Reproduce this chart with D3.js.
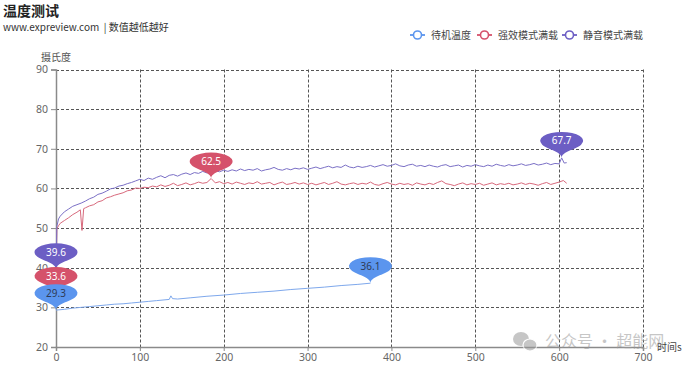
<!DOCTYPE html>
<html><head><meta charset="utf-8">
<script src="https://cdn.jsdelivr.net/npm/d3@7/dist/d3.min.js"></script>
<style>body{margin:0;background:#fff;font-family:"Noto Sans CJK SC","Noto Sans",sans-serif;}</style>
</head><body><svg id="c" width="700" height="371"></svg>
<script>
const xTicks = [0,100,200,300,400,500,600,700];
const yTicks = [20,30,40,50,60,70,80,90];
const seriesNames = ["待机温度","强效模式满载","静音模式满载"];

const idleT = [0,10,20,30,40,50,60,70,80,90,100,110,120,130,135,137,139,145,160,180,200,220,240,260,280,300,320,340,360,375];
const idleV = [29.3,29.5,29.8,30.0,30.2,30.4,30.6,30.8,30.9,31.1,31.3,31.5,31.7,31.9,32.0,32.9,32.2,32.1,32.4,32.8,33.1,33.5,33.8,34.1,34.5,34.8,35.1,35.5,35.8,36.1];

const perfT = [0,1,3,5,10,15,20,25,29,31,33,35,40,45,50,55,60,65,70,75,80,85,90,95,100,105,110,115,120,125,130,135,140,145,150,155,160,165,170,175,180,185,190,195,200,205,210,215,220,225,230,235,240,245,250,255,260,265,270,275,280,285,290,295,300,305,310,315,320,325,330,335,340,345,350,355,360,365,370,375,380,385,390,395,400,405,410,415,420,425,430,435,440,445,450,455,460,465,470,475,480,485,490,495,500,505,510,515,520,525,530,535,540,545,550,555,560,565,570,575,580,585,590,595,600,605,609];
const perfV = [33.6,49.8,50.6,51.2,51.9,52.6,53.4,54.0,54.6,49.4,54.9,55.1,55.6,55.9,56.6,56.9,57.6,57.9,58.3,58.6,58.9,59.4,59.6,60.1,60.0,60.3,60.2,60.6,60.4,60.9,60.5,60.8,61.3,60.7,61.0,61.4,60.9,61.2,61.6,61.3,61.5,62.5,61.4,61.7,61.2,61.5,61.1,61.6,61.3,61.0,61.4,61.2,61.7,61.1,61.3,61.5,60.9,61.3,61.6,61.0,61.2,61.5,61.1,61.4,61.0,61.3,60.9,61.2,61.5,61.0,61.3,61.7,61.1,60.9,61.2,61.4,61.0,61.3,61.1,61.6,61.0,60.8,61.2,61.5,61.1,60.9,61.3,61.0,61.2,60.8,61.4,61.1,60.9,61.3,61.0,61.5,61.9,61.2,61.0,60.7,61.1,61.4,60.9,61.2,61.0,61.3,60.8,61.1,61.4,60.9,61.2,61.0,61.3,60.9,61.1,61.4,61.0,61.3,61.1,60.8,61.2,61.5,61.0,61.3,61.6,62.0,61.3];

const quietT = [0,1,3,5,10,15,20,25,30,35,40,45,50,55,60,65,70,75,80,85,90,95,100,105,110,115,120,125,130,135,140,145,150,155,160,165,170,175,180,185,190,195,200,205,210,215,220,225,230,235,240,245,250,255,260,265,270,275,280,285,290,295,300,305,310,315,320,325,330,335,340,345,350,355,360,365,370,375,380,385,390,395,400,405,410,415,420,425,430,435,440,445,450,455,460,465,470,475,480,485,490,495,500,505,510,515,520,525,530,535,540,545,550,555,560,565,570,575,580,585,590,595,600,603,606,609];
const quietV = [39.6,50.4,52.3,53.0,54.1,54.8,55.5,55.9,56.3,56.8,57.4,57.8,58.5,58.8,59.3,59.9,60.1,60.6,60.8,61.2,61.5,61.9,62.3,62.0,62.6,62.3,62.8,63.2,62.7,63.3,63.5,63.1,63.6,63.9,63.5,64.0,63.8,64.3,63.9,64.1,64.5,64.2,64.6,64.3,64.7,64.4,64.9,64.5,64.8,64.6,65.0,64.4,64.7,64.9,65.3,64.8,64.6,65.0,64.7,65.1,64.9,65.2,64.8,65.1,65.4,65.0,65.3,65.6,65.2,65.5,65.3,65.9,65.4,65.2,65.6,65.3,65.5,65.8,65.4,65.7,66.0,65.6,65.8,66.2,65.7,65.5,65.9,66.1,65.6,65.8,65.5,65.9,65.6,65.4,65.8,66.0,65.5,65.7,65.9,65.4,65.8,65.6,66.0,65.7,65.5,65.9,65.6,66.1,65.8,65.6,66.0,65.7,65.9,66.2,65.8,66.0,66.3,65.9,66.1,66.4,66.0,66.3,66.2,67.7,66.4,66.5];

// marker points: [series index, time, value]
const markT = [0,375, 0,185, 0,603];
const markV = [29.3,36.1, 33.6,62.5, 39.6,67.7];
const markS = [0,0, 1,1, 2,2];

const colors = ["#5b95ee","#d5526b","#6c5ec4"];
const lineColors = ["#7ea8ec","#d8697c","#7b70c6"];
const labelColors = ["#2f3b55","#ffffff","#ffffff"];

const svg = d3.select("#c");
const x = d3.scaleLinear().domain([0,700]).range([56,643]);
const y = d3.scaleLinear().domain([20,90]).range([347,69.5]);

// title
svg.append("text").attr("x",3).attr("y",16).attr("font-size",14).attr("font-weight","bold").attr("fill","#222").text("温度测试");
svg.append("text").attr("x",3).attr("y",31).attr("font-size",10).attr("fill","#333").text("www.expreview.com  | 数值越低越好").attr("xml:space","preserve").style("white-space","pre");

// grid
const grid = svg.append("g").attr("stroke","#555").attr("stroke-width",1).attr("stroke-dasharray","3,2").attr("fill","none");
yTicks.filter(v=>v>20).forEach(v=>{
  grid.append("line").attr("x1",x(0)).attr("x2",x(700)).attr("y1",Math.round(y(v))+0.5).attr("y2",Math.round(y(v))+0.5);
});
xTicks.filter(v=>v>0).forEach(v=>{
  grid.append("line").attr("y1",y(90)).attr("y2",y(20)).attr("x1",Math.round(x(v))+0.5).attr("x2",Math.round(x(v))+0.5);
});

// axes
const yAxis = svg.append("g").attr("transform",`translate(${x(0)},0)`)
  .call(d3.axisLeft(y).tickValues(yTicks).tickSize(5).tickPadding(3).tickFormat(d3.format("d")));
const xAxis = svg.append("g").attr("transform",`translate(0,${y(20)})`)
  .call(d3.axisBottom(x).tickValues(xTicks).tickSize(4).tickPadding(3).tickFormat(d3.format("d")));
[yAxis,xAxis].forEach(a=>{
  a.select(".domain").attr("stroke","#8a8a8a").attr("stroke-width",1.5);
  a.selectAll(".tick line").attr("stroke","#8a8a8a");
  a.selectAll(".tick text").attr("fill","#666").attr("font-size",10.5).attr("font-family","'Noto Sans',sans-serif");
});
svg.append("text").attr("x",x(0)).attr("y",61).attr("text-anchor","middle").attr("font-size",10).attr("fill","#555").text("摄氏度");
svg.append("text").attr("x",657).attr("y",351).attr("font-size",10).attr("fill","#444").text("时间s");

// lines
const data = [[idleT,idleV],[perfT,perfV],[quietT,quietV]];
const line = d3.line().x(d=>x(d[0])).y(d=>y(d[1]));
data.forEach((d,i)=>{
  const pts = d[0].map((t,k)=>[t,d[1][k]]);
  svg.append("path").datum(pts).attr("d",line).attr("fill","none")
    .attr("stroke",lineColors[i]).attr("stroke-width",1).attr("stroke-linejoin","round");
});

// pin path (unit, tip at 0,0)
function pinPath(){
  const r=0.6,h=2,dy=r*r/(h-r),cy=-h+r+dy,ang=Math.asin(dy/r),dx=Math.cos(ang)*r;
  const tx=Math.sin(ang),ty=Math.cos(ang),c1=r*0.6,c2=r*0.7;
  const p=d3.path();
  p.moveTo(-dx,cy+dy);
  p.arc(0,cy,r,Math.PI-ang,Math.PI*2+ang,false);
  p.bezierCurveTo(dx-tx*c1,cy+dy+ty*c1,0,-c2,0,0);
  p.bezierCurveTo(0,-c2,-dx+tx*c1,cy+dy+ty*c1,-dx,cy+dy);
  p.closePath();
  return {d:p.toString(),cy:cy};
}
const pin = pinPath();
const sx = 43/1.2, sy = 26/1.743;
const order = [4,5,2,3,0,1];
order.forEach(k=>{
  const s = markS[k];
  const g = svg.append("g").attr("transform",`translate(${x(markT[k])},${y(markV[k])})`);
  g.append("path").attr("d",pin.d).attr("transform",`scale(${sx},${sy})`).attr("fill",colors[s]);
  g.append("text").attr("x",0).attr("y",pin.cy*sy).attr("dy","0.35em").attr("text-anchor","middle")
    .attr("font-size",10).attr("font-family","'Noto Sans',sans-serif").attr("fill",labelColors[s]).text(markV[k].toFixed(1));
});

// legend
const legX = [410,477,562];
seriesNames.forEach((n,i)=>{
  const g = svg.append("g").attr("transform",`translate(${legX[i]},35)`);
  g.append("line").attr("x1",0).attr("x2",15).attr("stroke",colors[i]).attr("stroke-width",1.8);
  g.append("circle").attr("cx",7.5).attr("r",4).attr("fill","#fff").attr("stroke",colors[i]).attr("stroke-width",1.6);
  g.append("text").attr("x",21).attr("dy","0.35em").attr("font-size",10).attr("fill","#444").text(n);
});

// watermark
const wm = svg.append("g").attr("opacity",0.55);
wm.append("ellipse").attr("cx",521).attr("cy",339).attr("rx",8).attr("ry",7).attr("fill","#999");
wm.append("ellipse").attr("cx",530).attr("cy",345).attr("rx",7).attr("ry",6).attr("fill","#999").attr("stroke","#fff").attr("stroke-width",1.2);
wm.append("text").attr("x",545).attr("y",347).attr("font-size",16).attr("fill","#999").text("公众号 · 超能网");
</script></body></html>
